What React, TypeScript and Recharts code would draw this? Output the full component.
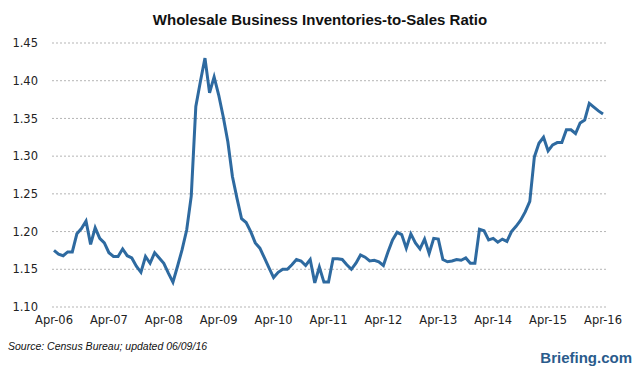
import { LineChart, Line, XAxis, YAxis, CartesianGrid } from "recharts";

// monthly ratio, Apr-06 .. Apr-16
const ratio = [
  1.175, 1.17, 1.168, 1.173, 1.173, 1.197, 1.204, 1.214, 1.183, 1.205, 1.191, 1.185,
  1.172, 1.167, 1.167, 1.177, 1.168, 1.165, 1.154, 1.146, 1.167, 1.158, 1.172, 1.165,
  1.158, 1.145, 1.133, 1.154, 1.176, 1.202, 1.247, 1.366, 1.399, 1.43, 1.384, 1.405,
  1.381, 1.352, 1.319, 1.273, 1.244, 1.217, 1.212, 1.2, 1.185, 1.178, 1.165, 1.152,
  1.139, 1.146, 1.15, 1.15, 1.156, 1.163, 1.161, 1.155, 1.163, 1.132, 1.153, 1.133,
  1.133, 1.164, 1.164, 1.163, 1.156, 1.15, 1.158, 1.169, 1.166, 1.161, 1.162, 1.16,
  1.155, 1.173, 1.189, 1.199, 1.196, 1.178, 1.197, 1.185, 1.177, 1.19, 1.171, 1.191,
  1.19, 1.163, 1.16, 1.161, 1.163, 1.162, 1.165, 1.158, 1.158, 1.203, 1.201, 1.189,
  1.191, 1.186, 1.19, 1.187, 1.2, 1.207, 1.215, 1.226, 1.24, 1.299, 1.317, 1.325,
  1.307, 1.315, 1.318, 1.318, 1.335, 1.335, 1.33, 1.344, 1.348, 1.37, 1.365, 1.36,
  1.356,
];

const monthNames = ["Jan", "Feb", "Mar", "Apr", "May", "Jun", "Jul", "Aug", "Sep", "Oct", "Nov", "Dec"];
const yTicks = [1.1, 1.15, 1.2, 1.25, 1.3, 1.35, 1.4, 1.45];

const data = ratio.map((v, i) => {
  const m = 3 + i;
  const yr = 6 + Math.floor(m / 12);
  return { month: `${monthNames[m % 12]}-${String(yr).padStart(2, "0")}`, ratio: v };
});

const tickStyle = { fontSize: 11.5, fill: "#222", fontFamily: "'DejaVu Sans', sans-serif" };

export default function App() {
  return (
    <div style={{ position: "absolute", left: 0, top: 0, width: 640, height: 375, background: "#fff" }}>
      <div
        style={{
          position: "absolute",
          top: 11,
          left: 0,
          width: 640,
          textAlign: "center",
          fontFamily: "'Liberation Sans', sans-serif",
          fontWeight: "bold",
          fontSize: 15,
          color: "#111",
        }}
      >
        Wholesale Business Inventories-to-Sales Ratio
      </div>
      <LineChart width={640} height={375} data={data} margin={{ top: 43, right: 33, bottom: 38, left: 0 }}>
        <CartesianGrid horizontal vertical={false} stroke="#b5b5b5" strokeDasharray="2 2" />
        <XAxis
          dataKey="month"
          interval={11}
          height={30}
          axisLine={false}
          tickLine={false}
          tickSize={6}
          tickMargin={3}
          padding={{ left: 2, right: 4 }}
          tick={tickStyle}
        />
        <YAxis
          domain={[1.1, 1.45]}
          ticks={yTicks}
          width={52}
          axisLine={false}
          tickLine={false}
          tickSize={6}
          tickMargin={8}
          tickFormatter={(v: number) => v.toFixed(2)}
          tick={tickStyle}
        />
        <Line
          type="linear"
          dataKey="ratio"
          stroke="#2e6aa0"
          strokeWidth={3}
          dot={false}
          isAnimationActive={false}
        />
      </LineChart>
      <div
        style={{
          position: "absolute",
          left: 8,
          top: 340,
          fontSize: 10.5,
          fontStyle: "italic",
          color: "#111",
          fontFamily: "'Liberation Sans', sans-serif",
        }}
      >
        Source: Census Bureau; updated 06/09/16
      </div>
      <div
        style={{
          position: "absolute",
          right: 8,
          top: 349,
          fontSize: 15,
          fontWeight: "bold",
          color: "#2a5b8c",
          fontFamily: "'Liberation Sans', sans-serif",
        }}
      >
        Briefing.com
      </div>
    </div>
  );
}
